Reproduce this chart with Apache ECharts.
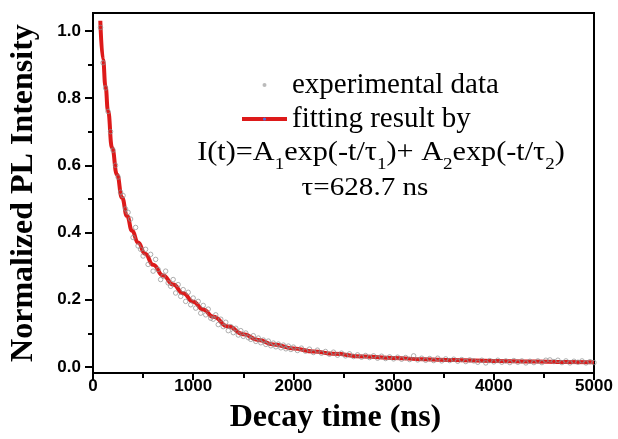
<!DOCTYPE html>
<html>
<head>
<meta charset="utf-8">
<script src="https://cdn.jsdelivr.net/npm/echarts@6/dist/echarts.min.js"></script>
<style>html,body{margin:0;padding:0;background:#fff;}#c{width:618px;height:439px;}</style>
</head>
<body>
<div id="c"></div>
<script>
const expTime = [75,100,125,150,175,200,225,250,275,300,325,350,375,400,425,450,475,500,525,550,575,600,625,650,675,700,725,750,775,800,825,850,875,900,925,950,975,1000,1025,1050,1075,1100,1125,1150,1175,1200,1225,1250,1275,1300,1325,1350,1375,1400,1425,1450,1475,1500,1525,1550,1575,1600,1625,1650,1675,1700,1725,1750,1775,1800,1825,1850,1875,1900,1925,1950,1975,2000,
2040,2080,2120,2160,2200,2240,2280,2320,2360,2400,2440,2480,2520,2560,2600,2640,2680,2720,2760,2800,2840,2880,2920,2960,3000,3040,3080,3120,3160,3200,3240,3280,3320,3360,3400,3440,3480,3520,3560,3600,3640,3680,3720,3760,3800,3840,3880,3920,3960,4000,4040,4080,4120,4160,4200,4240,4280,4320,4360,4400,4440,4480,4520,4560,4600,4640,4680,4720,4760,4800,4840,4880,4920,4960,5000];
const expValue = [1.01,0.905,0.83,0.76,0.70,0.645,0.60,0.565,0.52,0.51,0.47,0.46,0.44,0.385,0.415,0.36,0.35,0.33,0.35,0.305,0.335,0.285,0.32,0.29,0.26,0.27,0.285,0.25,0.24,0.26,0.22,0.245,0.21,0.23,0.195,0.222,0.185,0.205,0.175,0.195,0.16,0.183,0.155,0.172,0.145,0.142,0.155,0.126,0.142,0.12,0.133,0.108,0.12,0.102,0.115,0.095,0.108,0.091,0.101,0.087,0.082,0.093,0.076,0.086,0.072,0.08,0.067,0.077,0.063,0.071,0.06,0.068,0.057,0.065,0.054,0.062,0.052,0.059,
0.049,0.056,0.047,0.053,0.043,0.05,0.041,0.046,0.038,0.044,0.035,0.041,0.033,0.039,0.031,0.036,0.029,0.034,0.028,0.033,0.026,0.032,0.025,0.03,0.024,0.029,0.023,0.028,0.022,0.033,0.021,0.026,0.02,0.025,0.019,0.026,0.018,0.024,0.019,0.023,0.017,0.022,0.016,0.021,0.018,0.014,0.02,0.012,0.019,0.015,0.02,0.014,0.018,0.013,0.019,0.014,0.018,0.012,0.017,0.013,0.018,0.013,0.02,0.021,0.016,0.02,0.013,0.018,0.012,0.017,0.014,0.018,0.012,0.016,0.013];

// Fitted curve
const fitTime = [73,100,125,150,190,240,290,340,390,450,520,600,700,800,900,1000,1100,1200,1350,1500,1650,1800,2000,2200,2400,2700,3000,3300,3600,4000,4400,4700,5000];
const fitValue = [1.03,0.915,0.835,0.762,0.652,0.572,0.503,0.449,0.405,0.37,0.337,0.304,0.272,0.245,0.219,0.194,0.171,0.149,0.12,0.097,0.08,0.067,0.055,0.046,0.039,0.031,0.0265,0.023,0.0205,0.018,0.016,0.015,0.014];

const xTickLabels = ['0', '1000', '2000', '3000', '4000', '5000'];
const yMajorTicks = [0, 0.2, 0.4, 0.6, 0.8, 1.0];
const yMinorTicks = [0.1, 0.3, 0.5, 0.7, 0.9];

const seriesNames = ['experimental data', 'fitting result by'];
const formulaText = 'I(t)=A{s|1}exp(-t/τ{s|1})+ A{s|2}exp(-t/τ{s|2})';
const tauText = 'τ=628.7 ns';

const chart = echarts.init(document.getElementById('c'), null, {renderer: 'canvas'});
const axisLine = {show: true, onZero: false, lineStyle: {color: '#000', width: 2}};
const labelFont = {color: '#000', fontFamily: 'Liberation Sans', fontWeight: 'bold', fontSize: 17};
const serif = 'Liberation Serif';

chart.setOption({
  animation: false,
  backgroundColor: '#fff',
  grid: {left: 93, right: 24, top: 13, bottom: 63, show: true, borderColor: '#000', borderWidth: 2, backgroundColor: 'transparent'},
  legend: {
    orient: 'vertical', left: 240, top: 70, padding: 0, itemWidth: 45, itemHeight: 4, itemGap: 4,
    selectedMode: false,
    textStyle: {fontFamily: serif, fontSize: 29, color: '#000', lineHeight: 30},
    data: [
      {name: seriesNames[0], icon: 'circle', itemStyle: {color: '#aaa', borderWidth: 0}},
      {name: seriesNames[1], lineStyle: {width: 4, color: '#dd1a1a'}}
    ]
  },
  xAxis: {
    type: 'value', min: 0, max: 5000, interval: 1000,
    axisLine: axisLine,
    axisTick: {show: true, inside: false, length: 7, lineStyle: {color: '#000', width: 2}},
    minorTick: {show: true, splitNumber: 2, length: 5, lineStyle: {color: '#000', width: 2}},
    splitLine: {show: false},
    axisLabel: Object.assign({margin: 5, formatter: v => xTickLabels[Math.round(v / 1000)]}, labelFont),
    name: 'Decay time (ns)', nameLocation: 'middle', nameGap: 29,
    nameTextStyle: {fontFamily: serif, fontWeight: 'bold', fontSize: 32, color: '#000', padding: [0, 16, 0, 0]}
  },
  yAxis: [{
    type: 'value', min: -0.018, max: 1.053,
    axisLine: axisLine,
    axisTick: {show: true, inside: false, length: 8, customValues: yMajorTicks, lineStyle: {color: '#000', width: 2}},
    splitLine: {show: false},
    axisLabel: Object.assign({margin: 12, customValues: yMajorTicks, formatter: v => v.toFixed(1)}, labelFont),
    name: 'Normalized PL Intensity', nameLocation: 'middle', nameGap: 53,
    nameTextStyle: {fontFamily: serif, fontWeight: 'bold', fontSize: 32, color: '#000'}
  }, {
    type: 'value', min: -0.018, max: 1.053, position: 'left',
    axisLine: {show: false},
    axisTick: {show: true, inside: false, length: 5, customValues: yMinorTicks, lineStyle: {color: '#000', width: 2}},
    axisLabel: {show: false},
    splitLine: {show: false}
  }],
  graphic: [
    {type: 'text', x: 381, y: 153, scaleX: 1.12, z: 10,
      style: {text: formulaText, fontFamily: serif, fontSize: 27, fill: '#000', align: 'center', verticalAlign: 'middle', lineHeight: 40,
        rich: {s: {fontFamily: serif, fontSize: 17, lineHeight: 17, verticalAlign: 'bottom'}}}},
    {type: 'text', x: 365, y: 188, scaleX: 1.12, z: 10,
      style: {text: tauText, fontFamily: serif, fontSize: 26, fill: '#000', align: 'center', verticalAlign: 'middle'}}
  ],
  series: [
    {
      name: seriesNames[1], type: 'line', smooth: true, smoothMonotone: 'x', showSymbol: false, symbol: 'none',
      lineStyle: {color: '#dd1a1a', width: 4},
      data: fitTime.map((t, i) => [t, fitValue[i]]), z: 2
    },
    {
      name: seriesNames[0], type: 'scatter', symbol: 'circle', symbolSize: 4.5,
      itemStyle: {color: 'rgba(255,255,255,0)', borderColor: '#8f8f8f', borderWidth: 0.9},
      data: expTime.map((t, i) => [t, expValue[i]]), z: 3
    }
  ]
});
</script>
</body>
</html>
